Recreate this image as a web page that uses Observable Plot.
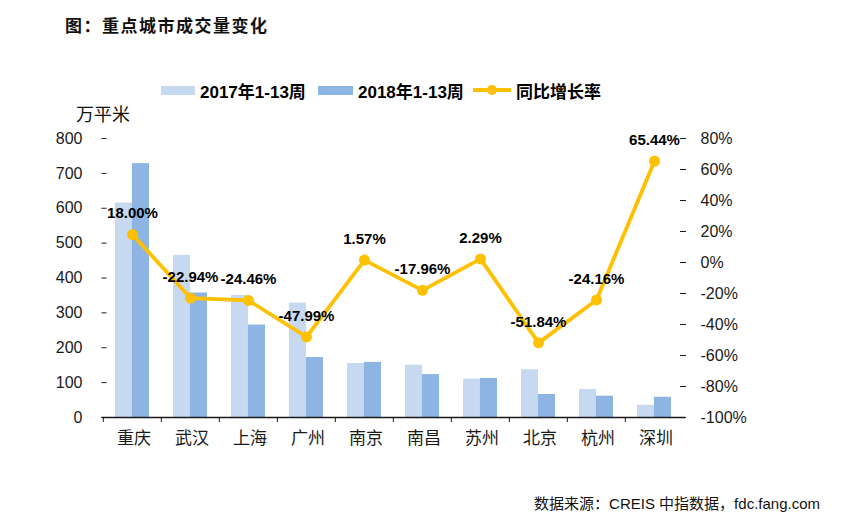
<!DOCTYPE html>
<html><head><meta charset="utf-8">
<script src="https://cdn.jsdelivr.net/npm/d3@7"></script>
<script src="https://cdn.jsdelivr.net/npm/@observablehq/plot@0.6"></script>
<style>
body{margin:0;background:#fff;}
#wrap{position:relative;width:850px;height:524px;overflow:hidden;font-family:"Liberation Sans","Noto Sans CJK SC",sans-serif;}
#wrap svg{position:absolute;left:0;top:0;}
.abs{position:absolute;white-space:nowrap;line-height:1;}
.sw{position:absolute;}
</style></head><body><div id="wrap"></div>
<script>
const cities = ["重庆","武汉","上海","广州","南京","南昌","苏州","北京","杭州","深圳"];
const v2017 = [615, 465, 350, 328, 155, 150, 110, 137, 80, 35];
const v2018 = [728, 357, 265, 172, 158, 123, 112, 66, 61, 58];
const growth = [18.00, -22.94, -24.46, -47.99, 1.57, -17.96, 2.29, -51.84, -24.16, 65.44];
const leftTicks = [0,100,200,300,400,500,600,700,800];
const rightTicks = [-100,-80,-60,-40,-20,0,20,40,60,80];
const seriesNames = ["2017年1-13周","2018年1-13周","同比增长率"];
const titleText = "图：重点城市成交量变化";
const unitText = "万平米";
const sourceText = "数据来源：CREIS 中指数据，fdc.fang.com";

const C17 = "#c6d9f1", C18 = "#8db4e2", CL = "#ffc000";
const LMIN = 0, LMAX = 800, RMIN = -100, RMAX = 80;
const toLeft = r => (r - RMIN) * (LMAX - LMIN) / (RMAX - RMIN) + LMIN;
const fromLeft = v => (v - LMIN) * (RMAX - RMIN) / (LMAX - LMIN) + RMIN;

const rows = cities.map((c, i) => ({city: c, a: v2017[i], b: v2018[i], g: growth[i], gy: toLeft(growth[i])}));

const W = 850, H = 524, mL = 101.5, mR = 165, mT = 138, mB = 107;
const step = (W - mL - mR) / cities.length;
const pIn = 0.42;
const half = step * (1 - pIn) / 2;
const CJK = "'Noto Sans CJK SC', sans-serif";

const chart = Plot.plot({
  width: W, height: H,
  marginLeft: mL, marginRight: mR, marginTop: mT, marginBottom: mB,
  style: {fontFamily: "'Liberation Sans', Arial, sans-serif", fontSize: "16px", color: "#1a1a1a", background: "transparent", overflow: "visible"},
  x: {domain: cities, paddingInner: pIn, paddingOuter: pIn / 2, label: null},
  y: {domain: [LMIN, LMAX], label: null},
  marks: [
    Plot.barY(rows, {x: "city", y: "a", fill: C17, insetRight: half}),
    Plot.barY(rows, {x: "city", y: "b", fill: C18, insetLeft: half}),
    Plot.ruleY([0], {stroke: "#1a1a1a", strokeWidth: 1.3}),
    Plot.axisY(leftTicks, {anchor: "left", tickSize: -5, tickPadding: 24.5, line: true, label: null, fontSize: 16}),
    Plot.axisY(rightTicks.map(toLeft), {anchor: "right", tickSize: -6, tickPadding: 21, line: true, label: null, fontSize: 16,
      tickFormat: d => Math.round(fromLeft(d)) + "%"}),
    Plot.axisX({tickSize: 5, tickFormat: () => "", dx: -step / 2, label: null}),
    Plot.axisX({tickSize: 0, tickPadding: 14, label: null, fontSize: 17, fontFamily: CJK, letterSpacing: "3px", dx: 1.5}),
    Plot.line(rows, {x: "city", y: "gy", stroke: CL, strokeWidth: 3.8}),
    Plot.dot(rows, {x: "city", y: "gy", r: 5.5, fill: CL}),
    Plot.text(rows, {x: "city", y: "gy", text: d => d.g.toFixed(2) + "%", dy: -21, fontWeight: "bold", fontSize: 15, fill: "#000"})
  ]
});
const wrap = document.getElementById("wrap");
wrap.appendChild(chart);

function addText(txt, css) {
  const d = document.createElement("div");
  d.className = "abs";
  d.textContent = txt;
  Object.assign(d.style, css);
  wrap.appendChild(d);
  return d;
}
function addSw(css) {
  const d = document.createElement("div");
  d.className = "sw";
  Object.assign(d.style, css);
  wrap.appendChild(d);
}
addText(titleText, {left: "65px", top: "16px", fontSize: "17px", fontWeight: "bold", fontFamily: CJK, letterSpacing: "1.5px", color: "#111"});
addText(unitText, {left: "76px", top: "104px", fontSize: "18px", fontFamily: CJK, color: "#111"});
addText(sourceText, {right: "30px", top: "496px", fontSize: "15px", color: "#111"});

// legend
addSw({left: "161px", top: "86px", width: "34px", height: "9px", background: C17});
addText(seriesNames[0], {left: "200px", top: "84px", fontSize: "17px", fontWeight: "bold", color: "#000"});
addSw({left: "318px", top: "86px", width: "35px", height: "9px", background: C18});
addText(seriesNames[1], {left: "358px", top: "84px", fontSize: "17px", fontWeight: "bold", color: "#000"});
addSw({left: "473px", top: "88px", width: "38px", height: "4px", background: CL});
addSw({left: "487px", top: "85px", width: "10px", height: "10px", background: CL, borderRadius: "50%"});
addText(seriesNames[2], {left: "516px", top: "84px", fontSize: "17px", fontWeight: "bold", color: "#000"});
</script></body></html>
